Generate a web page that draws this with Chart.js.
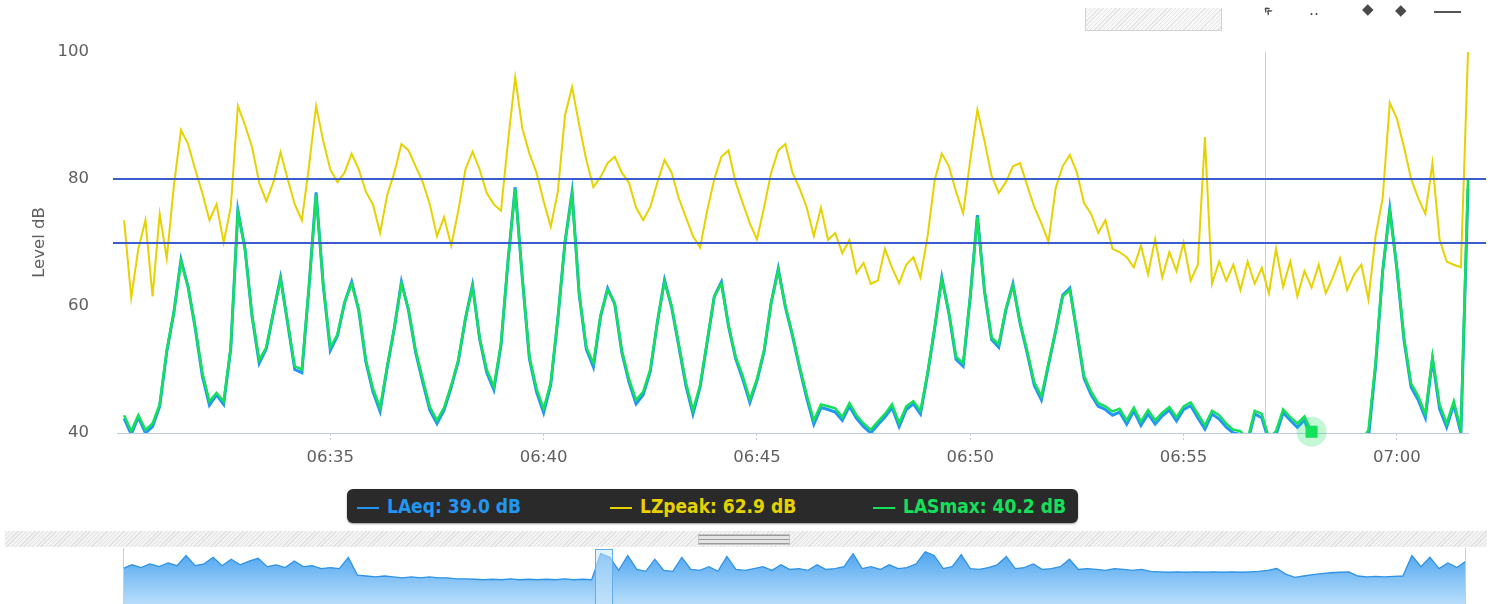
<!DOCTYPE html>
<html>
<head>
<meta charset="utf-8">
<script src="https://cdn.jsdelivr.net/npm/chart.js@4.4.1/dist/chart.umd.min.js"></script>
<style>
  body { margin: 0; background: #fff; width: 1493px; height: 604px; overflow: hidden; position: relative; font-family: 'DejaVu Sans', sans-serif; }
  #main { position: absolute; left: 0; top: 0; }
  #nav { position: absolute; left: 0; top: 548px; }
  #legend {
    position: absolute; left: 347px; top: 489px; width: 731px; height: 34px;
    background: #2a2a2a; border-radius: 6px; box-shadow: 0 1px 2px rgba(0,0,0,0.4);
    font-family: 'Liberation Sans Narrow', 'DejaVu Sans Condensed', sans-serif; font-stretch: condensed;
    font-weight: bold; font-size: 19px; line-height: 34px; white-space: nowrap;
  }
  #legend .item { display: inline-block; padding-left: 10px; box-sizing: border-box; }
  #legend .item i { display: inline-block; width: 22px; height: 2px; margin-right: 8px; vertical-align: middle; }
  .scrollbar {
    position: absolute; left: 5px; top: 531px; width: 1482px; height: 16px;
    background: repeating-linear-gradient(135deg, #e2e2e2 0 1px, #f3f3f3 1px 3px);
  }
  .scrollbar .handle {
    position: absolute; left: 693px; top: 3px; width: 92px; height: 11px;
    background: repeating-linear-gradient(180deg, #9a9a9a 0 1px, #e4e4e4 1px 4px);
    border: 1px solid #c6c6c6; box-sizing: border-box;
  }
  .rangebox {
    position: absolute; left: 1085px; top: 8px; width: 137px; height: 23px; box-sizing: border-box;
    border: 1px solid #d2d2d2; border-top: none;
    background: repeating-linear-gradient(135deg, #e6e6e6 0 1px, #f8f8f8 1px 3px);
  }
  .icon { position: absolute; color: #4a4a4a; font-size: 15px; line-height: 15px; }
  .dash { position: absolute; left: 1434px; top: 11px; width: 27px; height: 2px; background: #555; }
</style>
</head>
<body>
<canvas id="main" width="1493" height="480"></canvas>
<div id="legend"></div>
<div class="scrollbar"><div class="handle"></div></div>
<canvas id="nav" width="1493" height="56"></canvas>
<div class="rangebox"></div>
<div class="icon" style="left:1263px; top:3px; transform: rotate(45deg); font-weight:bold;">«</div>
<div class="icon" style="left:1309px; top:3px;">‥</div>
<div class="icon" style="left:1362px; top:2px;">◆</div>
<div class="icon" style="left:1395px; top:3px;">◆</div>
<div class="dash"></div>
<script>
// sampling of the main window: one value every 10 s
const START = '06:30:10';
const STEP = 10;
const END = '07:01:40';
const HOVER_TIME = '06:58:00';
const CURSOR_TIME = '06:56:54';

const seriesNames = ['LAeq', 'LZpeak', 'LASmax'];
const tickLabels = ['06:35', '06:40', '06:45', '06:50', '06:55', '07:00'];
const yTicks = [40, 60, 80, 100];
const limits = [80, 70];

const laeq = [
  42.3, 39.8, 42.5, 40, 41, 44.2, 52.8, 59, 67.3, 63, 56.5, 49, 44.4, 46, 44.5, 53.3, 75.1, 69, 58.3, 51,
  53.3, 59, 64.5, 57.3, 50, 49.5, 63, 77.9, 63.3, 53, 55.3, 60.5, 63.8, 59.3, 51.2, 46.5, 43.4, 50.3, 56.5, 63.8,
  59.3, 52.7, 48, 43.6, 41.5, 43.6, 47.2, 51.3, 58, 63.3, 54.8, 49.5, 46.8, 53.8, 67.2, 78.7, 64.4, 51.7, 46.5, 43.2,
  47.6, 58, 70, 77.9, 61.8, 53.2, 50.4, 58.3, 62.8, 60.3, 52.7, 48, 44.6, 46, 49.7, 57.5, 64.1, 59.8, 53.7, 47.5,
  43, 47.2, 54.3, 61.5, 63.8, 56.8, 51.7, 48.5, 44.8, 48.2, 52.8, 60.5, 65.9, 59.8, 55.3, 50.2, 45.5, 41.4, 44, 43.7,
  43.3, 42, 44.2, 42.3, 41, 40, 41.3, 42.5, 44, 41, 43.7, 44.6, 43, 49.3, 56.5, 64.5, 58.8, 51.6, 50.5, 61.5,
  74.3, 62.3, 54.7, 53.5, 59.3, 63.5, 57.3, 52.6, 47.5, 45.2, 50.7, 56, 61.7, 62.8, 55.8, 48.6, 46, 44.2, 43.7, 42.8,
  43.3, 41.4, 43.5, 41.2, 43, 41.4, 42.7, 43.6, 41.9, 43.7, 44.3, 42.4, 40.6, 43, 42.2, 40.9, 40, 39.8, 38.5, 43,
  42.4, 38.7, 39.7, 43.2, 42, 40.9, 42, 39.0, 38, 37.5, 37, 37.6, 37.2, 37.5, 38, 39.2, 50.5, 65.5, 75.3, 65.8,
  54.6, 47.2, 45.2, 42.4, 51.6, 43.8, 40.9, 44.5, 40, 78.5
];

const lzpeak = [
  73.5, 61.3, 69, 73.5, 61.5, 74.5, 67.5, 79, 87.7, 85.5, 81.5, 77.8, 73.5, 76, 70, 75.6, 91.5, 88.5, 85, 79.4,
  76.5, 79.5, 84.2, 80, 76, 73.5, 82, 91.5, 86, 81.5, 79.5, 81, 84, 81.5, 78, 76, 71.5, 77.5, 81, 85.5,
  84.5, 82, 79.5, 76, 71, 74, 69.5, 75, 81.5, 84.3, 81.5, 77.8, 76, 75, 86, 96, 88, 84, 81, 76.5,
  72.5, 78, 90, 94.5, 88.5, 83, 78.7, 80.3, 82.5, 83.5, 81, 79.4, 75.5, 73.5, 75.6, 79.5, 83, 81, 77, 74,
  71, 69.2, 75, 80, 83.5, 84.5, 79.5, 76.2, 73, 70.5, 75.5, 81, 84.5, 85.5, 81, 78.5, 75.5, 71, 75.5, 70.4,
  71.5, 68.3, 70.4, 65.2, 66.8, 63.5, 64, 69, 66, 63.6, 66.5, 67.7, 64.5, 71, 79.8, 84, 82, 78, 74.6, 83,
  90.9, 86, 80.5, 77.8, 79.5, 82, 82.5, 79, 75.6, 73, 70.1, 78.5, 82, 83.8, 81, 76.2, 74.5, 71.5, 73.5, 69,
  68.5, 67.7, 66.1, 69.5, 65, 70.5, 64.5, 68.5, 65.5, 70, 64, 66.5, 86.6, 63.5, 67, 64, 66.5, 62.5, 67, 63.5,
  66, 62, 69, 63, 67, 61.5, 65.5, 62.9, 66.5, 62, 64.5, 67.5, 62.5, 65, 66.5, 61, 71, 77, 92, 89.5,
  85, 80, 77, 74.5, 82.5, 70.5, 67, 66.5, 66.1, 100
];

const lasmax = [
  42.8, 40.3, 42.8, 40.5, 41.5, 44.5, 53, 59, 67, 63, 56.7, 49.5, 45, 46.3, 45, 53.5, 74.8, 69, 58.5, 51.5,
  53.5, 59, 64.2, 57.5, 50.5, 50, 63, 77.5, 63.5, 53.5, 55.5, 60.5, 63.5, 59.5, 51.5, 47, 44, 50.5, 56.5, 63.5,
  59.5, 53, 48.5, 44.1, 42, 44, 47.5, 51.5, 58, 63, 55, 50, 47.3, 54, 67.2, 78.4, 64.6, 52, 47, 43.8,
  48, 58, 70, 77.5, 62, 53.5, 51, 58.5, 62.5, 60.5, 53, 48.5, 45.2, 46.5, 50, 57.5, 63.8, 60, 54, 48,
  43.6, 47.5, 54.5, 61.5, 63.5, 57, 52, 49, 45.3, 48.5, 53, 60.5, 65.6, 60, 55.5, 50.5, 46, 42, 44.5, 44.2,
  43.9, 42.5, 44.7, 42.8, 41.5, 40.5, 41.8, 43, 44.5, 41.6, 44.2, 45, 43.5, 49.5, 56.7, 64.2, 59, 52, 51, 61.5,
  74, 62.5, 55, 54, 59.5, 63.2, 57.5, 53, 48, 45.8, 51, 56, 61.5, 62.5, 56, 49, 46.5, 44.7, 44.2, 43.4,
  43.8, 42, 44, 41.8, 43.6, 42, 43.2, 44.1, 42.5, 44.2, 44.8, 43, 41.2, 43.5, 42.8, 41.5, 40.5, 40.3, 39, 43.5,
  43, 39.2, 40.3, 43.7, 42.5, 41.5, 42.6, 40.2, 38.5, 38, 37.5, 38.2, 37.8, 38, 38.5, 40.5, 51, 65.5, 75, 66,
  55, 47.8, 45.8, 43, 52, 44.5, 41.5, 45, 40.5, 80
];

// navigator: LAeq over the whole measurement, one value per step
const navLaeq = [
  58, 62, 59, 63, 60, 64, 61, 72, 61, 63, 70, 61, 68, 62, 66, 69, 60, 62, 59, 66,
  60, 61, 58, 59, 58, 70, 51, 50, 49, 50, 49, 48, 49, 48, 49, 48, 48, 47, 47, 46.5,
  46, 46.5, 46, 47, 46, 46.5, 46, 46.5, 46, 47, 46, 46.5, 46, 74, 70, 56, 72, 57, 55, 68,
  56, 55, 70, 57, 56, 60, 55, 71, 57, 56, 58, 60, 56, 62, 57, 58, 56, 62, 57, 58,
  60, 74, 58, 60, 57, 62, 58, 59, 63, 76, 72, 58, 60, 73, 58, 57, 59, 62, 71, 58,
  59, 63, 57, 58, 60, 68, 57, 58, 57, 56, 58, 57, 56, 57, 55, 54.5, 54, 54.5, 54, 54.5,
  54, 54.5, 54, 54.5, 54, 54.5, 55, 56, 58, 52, 48.5, 50, 51.5, 52.5, 53.5, 54, 54.5, 50, 49, 49.5,
  49, 49.5, 50, 72, 60, 70, 58, 64, 59, 66
];

const colors = { LAeq: '#2196f3', LZpeak: '#e6d200', LASmax: '#14e05a' };

function secs(hhmm) {
  const [h, m, s = 0] = hhmm.split(':').map(Number);
  return h * 3600 + m * 60 + s - (6 * 3600 + 30 * 60);
}
const t0 = secs(START);
const points = arr => arr.map((v, i) => ({ x: t0 + i * STEP, y: v }));
const hoverIndex = (secs(HOVER_TIME) - t0) / STEP;

Chart.defaults.font.family = 'DejaVu Sans';
Chart.defaults.color = '#606060';

const guides = {
  id: 'guides',
  beforeDatasetsDraw(chart) {
    const { ctx, chartArea, scales } = chart;
    const x = scales.x.getPixelForValue(secs(CURSOR_TIME));
    ctx.save();
    ctx.strokeStyle = '#cfcfcf';
    ctx.lineWidth = 1;
    ctx.beginPath();
    ctx.moveTo(Math.round(x) + 0.5, chartArea.top);
    ctx.lineTo(Math.round(x) + 0.5, chartArea.bottom);
    ctx.stroke();
    ctx.restore();
  },
  afterDatasetsDraw(chart) {
    const { ctx, chartArea, scales } = chart;
    ctx.save();
    ctx.strokeStyle = '#3a5ccc';
    ctx.lineWidth = 2;
    limits.forEach(v => {
      const y = Math.round(scales.y.getPixelForValue(v));
      ctx.beginPath();
      ctx.moveTo(chartArea.left - 4, y);
      ctx.lineTo(chartArea.right + 18, y);
      ctx.stroke();
    });
    // hovered point of LASmax
    const el = chart.getDatasetMeta(2).data[hoverIndex];
    if (el) {
      ctx.fillStyle = 'rgba(20,224,90,0.25)';
      ctx.beginPath();
      ctx.arc(el.x, el.y, 15, 0, Math.PI * 2);
      ctx.fill();
      ctx.fillStyle = colors.LASmax;
      ctx.fillRect(el.x - 6, el.y - 6, 12, 12);
    }
    ctx.restore();
  }
};

const series = [laeq, lzpeak, lasmax];
const widths = [3, 2, 2.5];
const orders = [3, 2, 1];

const mainChart = new Chart(document.getElementById('main'), {
  type: 'line',
  data: {
    datasets: seriesNames.map((name, i) => ({
      label: name,
      data: points(series[i]),
      borderColor: colors[name],
      borderWidth: widths[i],
      pointRadius: 0,
      tension: 0,
      fill: false,
      order: orders[i],
      clip: { left: 0, top: 3, right: 3, bottom: 0 }
    }))
  },
  options: {
    responsive: false,
    animation: false,
    devicePixelRatio: 1,
    events: [],
    layout: { padding: { top: 52, right: 25, left: 0, bottom: 0 } },
    plugins: { legend: { display: false }, tooltip: { enabled: false } },
    scales: {
      x: {
        type: 'linear',
        min: 0,
        max: secs(END),
        afterBuildTicks: s => { s.ticks = tickLabels.map(l => ({ value: secs(l) })); },
        afterFit: s => { s.height = 47; },
        ticks: { callback: (v, i) => tickLabels[i], font: { size: 16.5 }, padding: 7, maxRotation: 0, autoSkip: false },
        grid: { drawOnChartArea: false, tickLength: 8, tickColor: '#c3cde6', tickBorderDash: [2, 2] },
        border: { display: true, color: '#bcc7e4', dash: [2, 2] }
      },
      y: {
        min: 40,
        max: 100,
        afterBuildTicks: s => { s.ticks = yTicks.map(v => ({ value: v })); },
        afterFit: s => { s.width = 117; },
        ticks: { font: { size: 16.5 }, padding: 20 },
        grid: { display: false },
        border: { display: false },
        title: { display: true, text: 'Level dB', font: { size: 16.5 }, padding: { top: 30, bottom: 0 } }
      }
    }
  },
  plugins: [guides]
});

// legend with values at the hovered time
const legend = document.getElementById('legend');
const itemWidths = [253, 263, 0];
seriesNames.forEach((name, i) => {
  const span = document.createElement('span');
  span.className = 'item';
  if (itemWidths[i]) span.style.width = itemWidths[i] + 'px';
  span.style.color = colors[name];
  span.innerHTML = '<i style="background:' + colors[name] + '"></i>' + name + ': ' + series[i][hoverIndex].toFixed(1) + ' dB';
  legend.appendChild(span);
});

// navigator
const navFrame = {
  id: 'navFrame',
  afterDatasetsDraw(chart) {
    const { ctx, chartArea, scales } = chart;
    ctx.save();
    ctx.strokeStyle = '#cccccc';
    ctx.lineWidth = 1;
    ctx.beginPath();
    ctx.moveTo(chartArea.left + 0.5, chartArea.top);
    ctx.lineTo(chartArea.left + 0.5, chartArea.bottom);
    ctx.moveTo(chartArea.right - 0.5, chartArea.top);
    ctx.lineTo(chartArea.right - 0.5, chartArea.bottom);
    ctx.stroke();
    const x0 = scales.x.getPixelForValue(52.4);
    const x1 = scales.x.getPixelForValue(54.3);
    ctx.fillStyle = 'rgba(200,230,252,0.55)';
    ctx.fillRect(x0, chartArea.top + 1, x1 - x0, chartArea.bottom);
    ctx.strokeStyle = '#63aeea';
    ctx.strokeRect(Math.round(x0) + 0.5, chartArea.top + 1.5, Math.round(x1 - x0), chartArea.bottom + 4);
    ctx.restore();
  }
};

new Chart(document.getElementById('nav'), {
  type: 'line',
  data: {
    datasets: [{
      data: navLaeq.map((v, i) => ({ x: i, y: v })),
      borderColor: '#2f93e6',
      borderWidth: 1.3,
      pointRadius: 0,
      tension: 0,
      fill: 'start',
      backgroundColor: ctx => {
        const area = ctx.chart.chartArea;
        if (!area) return 'rgba(120,190,245,0.8)';
        const g = ctx.chart.ctx.createLinearGradient(0, area.top, 0, area.bottom);
        g.addColorStop(0, 'rgba(60,155,238,0.95)');
        g.addColorStop(1, 'rgba(175,218,250,0.9)');
        return g;
      }
    }]
  },
  options: {
    responsive: false,
    animation: false,
    devicePixelRatio: 1,
    events: [],
    layout: { padding: { left: 123, right: 27, top: 0, bottom: 0 } },
    plugins: { legend: { display: false }, tooltip: { enabled: false } },
    scales: {
      x: { type: 'linear', display: false, min: 0, max: navLaeq.length - 1 },
      y: { display: false, min: 20, max: 80 }
    }
  },
  plugins: [navFrame]
});
</script>
</body>
</html>
